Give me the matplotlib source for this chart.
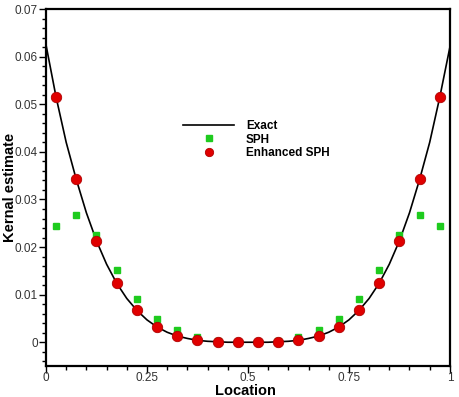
import matplotlib
matplotlib.use('Agg')
import matplotlib.pyplot as plt
from matplotlib.ticker import MultipleLocator

plt.rcParams['font.family'] = ['Liberation Sans', 'DejaVu Sans']

# exact kernel estimate (step 0.025)
exact_x = [0.0, 0.025, 0.05, 0.075, 0.1, 0.125, 0.15, 0.175, 0.2, 0.225,
           0.25, 0.275, 0.3, 0.325, 0.35, 0.375, 0.4, 0.425, 0.45, 0.475,
           0.5, 0.525, 0.55, 0.575, 0.6, 0.625, 0.65, 0.675, 0.7, 0.725,
           0.75, 0.775, 0.8, 0.825, 0.85, 0.875, 0.9, 0.925, 0.95, 0.975, 1.0]
exact_y = [0.0625, 0.0515, 0.0420, 0.0342, 0.0272, 0.0213, 0.0164, 0.0124, 0.0092, 0.0067,
           0.0047, 0.0032, 0.0021, 0.0013, 0.0008, 0.0004, 0.0002, 0.0001, 0.0, 0.0,
           0.0, 0.0, 0.0, 0.0001, 0.0002, 0.0004, 0.0008, 0.0013, 0.0021, 0.0032,
           0.0047, 0.0067, 0.0092, 0.0124, 0.0164, 0.0213, 0.0272, 0.0342, 0.0420, 0.0515, 0.0620]

# particle positions
particles = [0.025, 0.075, 0.125, 0.175, 0.225, 0.275, 0.325, 0.375, 0.425, 0.475,
             0.525, 0.575, 0.625, 0.675, 0.725, 0.775, 0.825, 0.875, 0.925, 0.975]
sph = [0.0244, 0.0268, 0.0225, 0.0152, 0.0090, 0.0048, 0.0025, 0.0011, 0.0002, 0.0,
       0.0, 0.0002, 0.0011, 0.0025, 0.0048, 0.0090, 0.0152, 0.0225, 0.0268, 0.0244]
enhanced = [0.0515, 0.0342, 0.0213, 0.0124, 0.0067, 0.0032, 0.0013, 0.0004, 0.0001, 0.0,
            0.0, 0.0001, 0.0004, 0.0013, 0.0032, 0.0067, 0.0124, 0.0213, 0.0342, 0.0515]

x_ticks = [0, 0.25, 0.5, 0.75, 1]
x_labels = ['0', '0.25', '0.5', '0.75', '1']
y_ticks = [0, 0.01, 0.02, 0.03, 0.04, 0.05, 0.06, 0.07]
y_labels = ['0', '0.01', '0.02', '0.03', '0.04', '0.05', '0.06', '0.07']

fig = plt.figure(figsize=(4.6, 3.97), dpi=100)
ax = fig.add_axes([0.1, 0.078, 0.878, 0.899])

ax.plot(exact_x, exact_y, color='black', lw=1.2, label='Exact', zorder=2)
ax.plot(particles, sph, ls='none', marker='s', ms=5, color='#1ecb1e',
        mec='#1ecb1e', label='SPH', zorder=3)
ax.plot(particles, enhanced, ls='none', marker='o', ms=7.5, color='#e00000',
        mec='#b00000', mew=0.6, label='Enhanced SPH', zorder=4)

ax.set_xlim(0, 1)
ax.set_ylim(-0.005, 0.07)
ax.set_xticks(x_ticks)
ax.set_xticklabels(x_labels)
ax.set_yticks(y_ticks)
ax.set_yticklabels(y_labels)
ax.xaxis.set_minor_locator(MultipleLocator(0.05))
ax.yaxis.set_minor_locator(MultipleLocator(0.002))
ax.tick_params(which='major', direction='out', length=5, width=1, labelsize=8.5,
               pad=1, colors='black', top=False, right=False)
ax.tick_params(which='minor', direction='out', length=3, width=1, top=False, right=False)
ax.tick_params(axis='x', labelcolor='#333333', pad=-1)
ax.tick_params(axis='y', labelcolor='#333333')
for s in ax.spines.values():
    s.set_linewidth(1.6)

ax.set_xlabel('Location', fontsize=10.5, fontweight='bold')
ax.set_ylabel('Kernal estimate', fontsize=10.5, fontweight='bold')
ax.xaxis.set_label_coords(0.493, -0.05)
ax.yaxis.set_label_coords(-0.073, 0.5)

ax.legend(loc='upper left', bbox_to_anchor=(0.34, 0.69), frameon=False,
          handlelength=4.3, handletextpad=1.0, labelspacing=0.15,
          borderpad=0, borderaxespad=0, markerscale=0.8,
          prop={'weight': 'bold', 'size': 8.5})

fig.savefig('out.png', dpi=100)
